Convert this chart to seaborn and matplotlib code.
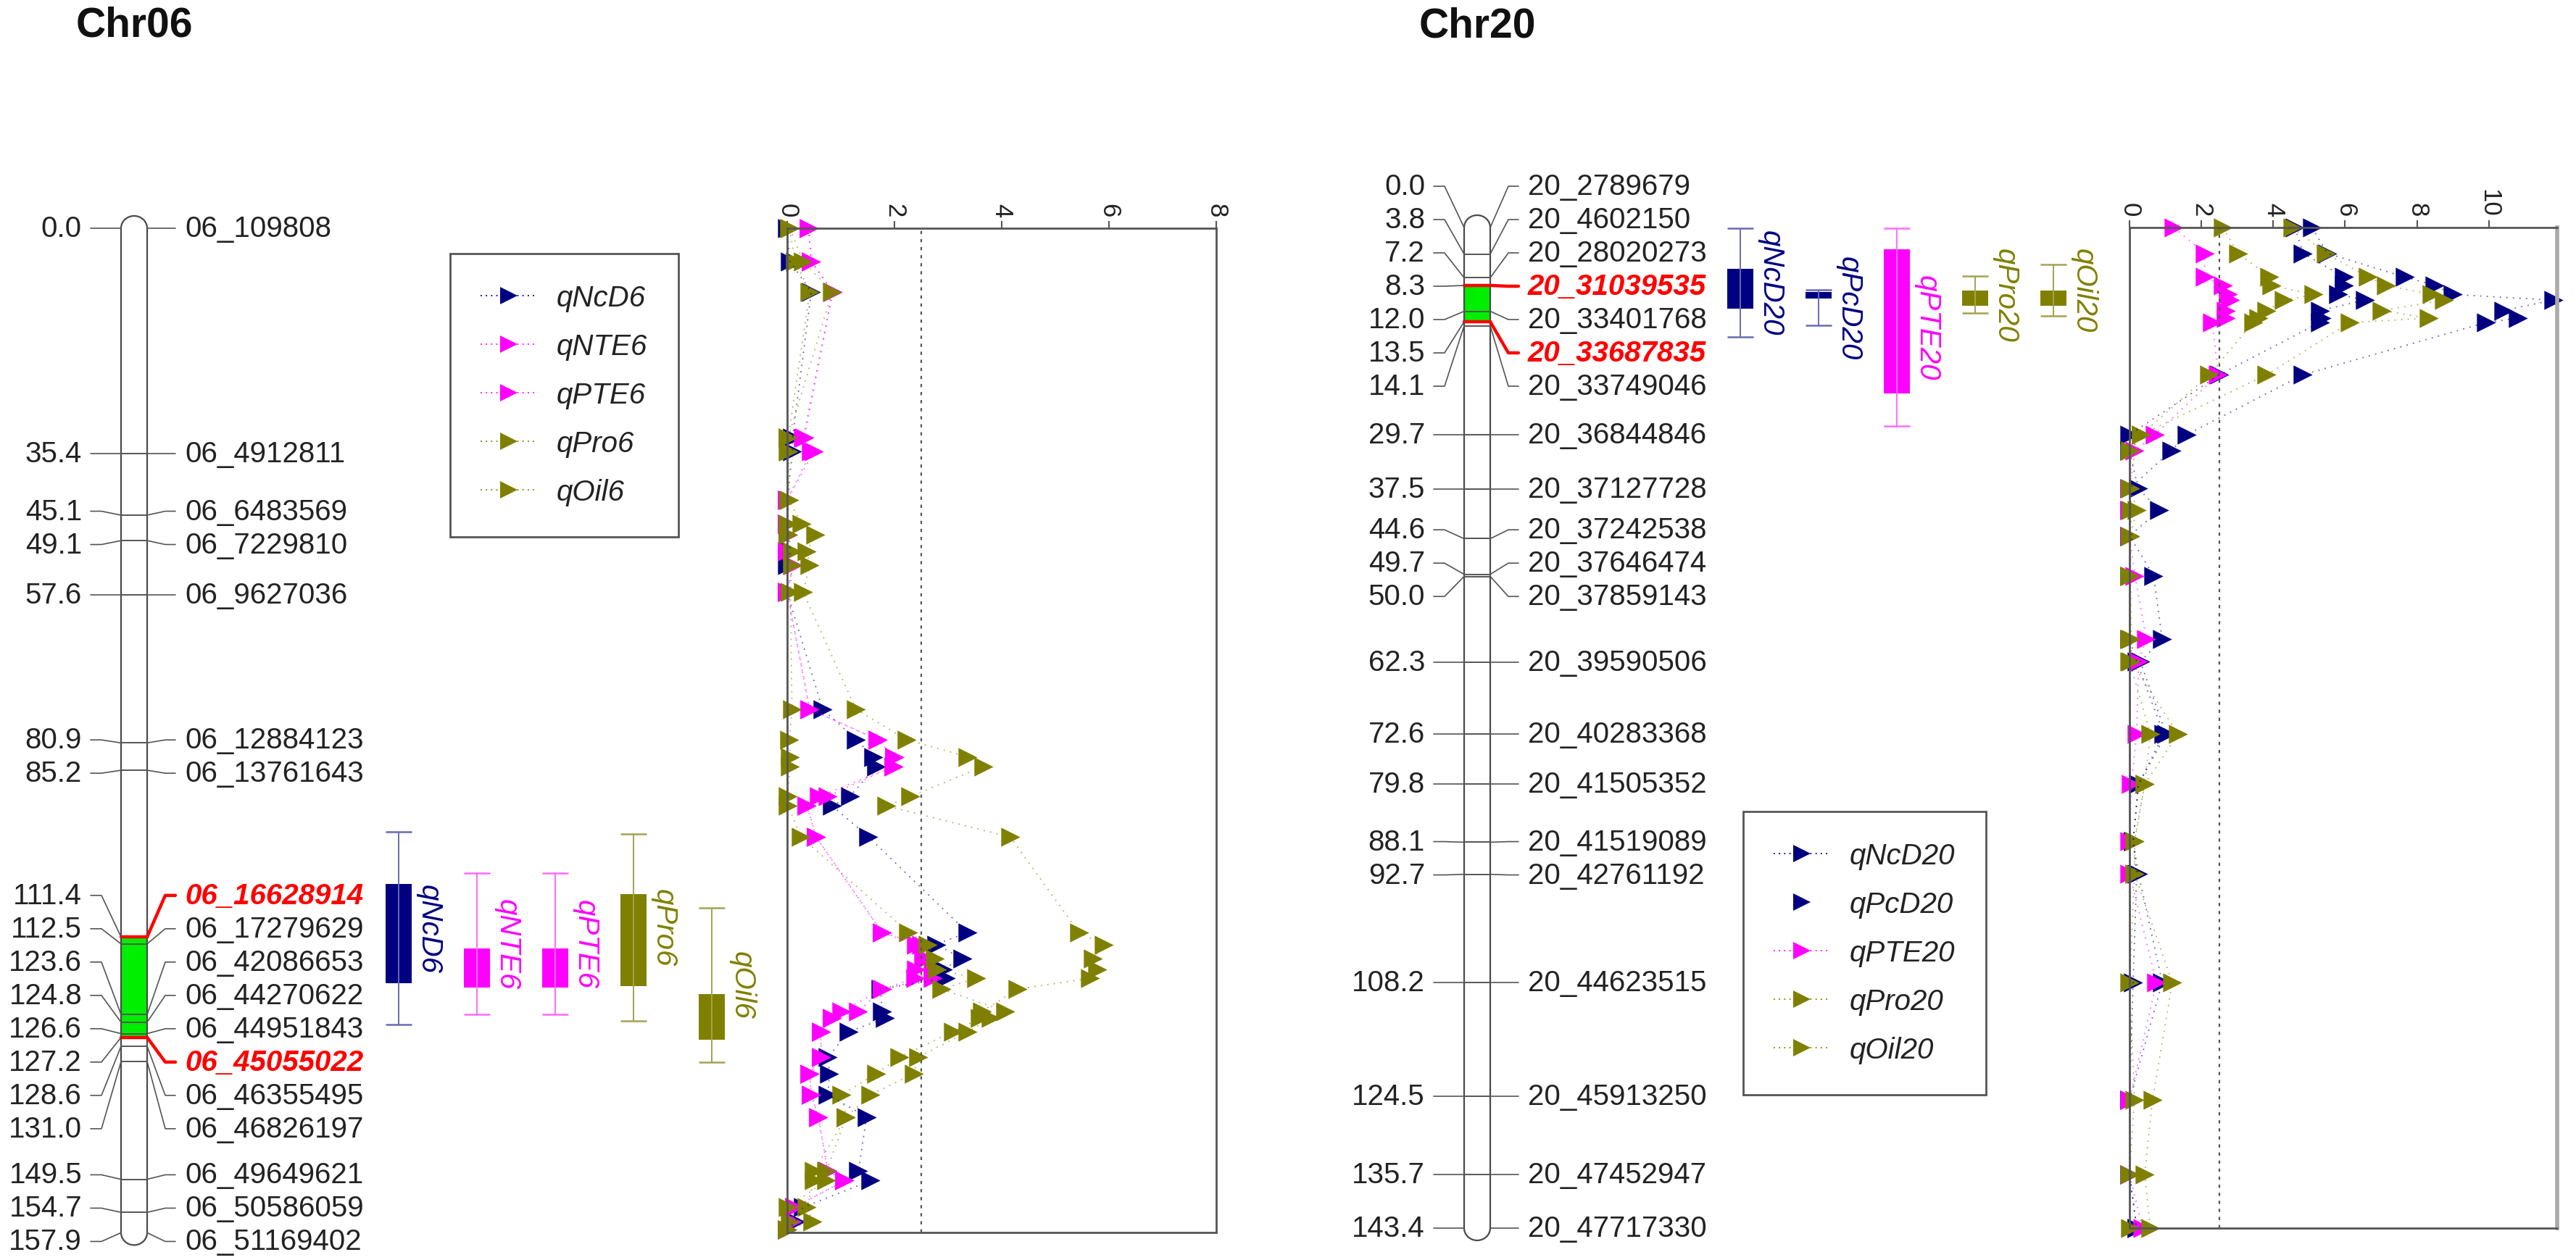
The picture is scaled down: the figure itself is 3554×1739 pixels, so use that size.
import numpy as np
import matplotlib
matplotlib.use('Agg')
import matplotlib.pyplot as plt
from matplotlib.patches import Arc
from matplotlib.lines import Line2D
import seaborn as sns

# ---- genetic maps (cM) ----
chr06_pos = [0.0, 35.4, 45.1, 49.1, 57.6, 80.9, 85.2, 111.4, 112.5, 123.6, 124.8,
             126.6, 127.2, 128.6, 131.0, 149.5, 154.7, 157.9]
chr06_names = ['06_109808', '06_4912811', '06_6483569', '06_7229810', '06_9627036',
               '06_12884123', '06_13761643', '06_16628914', '06_17279629', '06_42086653',
               '06_44270622', '06_44951843', '06_45055022', '06_46355495', '06_46826197',
               '06_49649621', '06_50586059', '06_51169402']
chr06_flank = ['06_16628914', '06_45055022']

chr20_pos = [0.0, 3.8, 7.2, 8.3, 12.0, 13.5, 14.1, 29.7, 37.5, 44.6, 49.7, 50.0, 62.3,
             72.6, 79.8, 88.1, 92.7, 108.2, 124.5, 135.7, 143.4]
chr20_names = ['20_2789679', '20_4602150', '20_28020273', '20_31039535', '20_33401768',
               '20_33687835', '20_33749046', '20_36844846', '20_37127728', '20_37242538',
               '20_37646474', '20_37859143', '20_39590506', '20_40283368', '20_41505352',
               '20_41519089', '20_42761192', '20_44623515', '20_45913250', '20_47452947',
               '20_47717330']
chr20_flank = ['20_31039535', '20_33687835']

# ---- QTL intervals: (whisker low, box low, box high, whisker high) in cM ----
chr06_qtl_names = ['qNcD6', 'qNTE6', 'qPTE6', 'qPro6', 'qOil6']
chr06_qtl_iv = [(94.9, 103.1, 118.7, 125.2), (101.4, 113.2, 119.4, 123.6),
                (101.4, 113.2, 119.4, 123.6), (95.2, 104.7, 119.1, 124.6),
                (106.8, 120.4, 127.6, 131.1)]
chr20_qtl_names = ['qNcD20', 'qPcD20', 'qPTE20', 'qPro20', 'qOil20']
chr20_qtl_iv = [(0.1, 5.9, 11.6, 15.7), (8.9, 9.2, 10.2, 14.0), (0.1, 3.1, 23.8, 28.5),
                (7.0, 9.0, 11.2, 12.3), (5.3, 9.0, 11.2, 12.7)]

# ---- LOD profiles ----
chr06_scan = [0.0, 5.2, 10.0, 32.9, 35.1, 42.7, 46.5, 48.2, 50.8, 53.0, 57.2, 75.6, 80.4,
              83.1, 84.6, 89.3, 90.8, 95.7, 110.7, 112.6, 114.8, 116.5, 117.9, 119.6,
              123.1, 124.2, 126.3, 130.3, 132.9, 136.2, 139.7, 148.2, 149.7, 153.9,
              156.1, 157.4]
lod_ncd6 = [0.0, 0.05, 0.45, 0.1, 0.1, 0.0, 0.0, 0.02, 0.06, 0.0, 0.0, 0.66, 1.29, 1.61,
            1.66, 1.17, 0.84, 1.52, 3.36, 2.78, 3.27, 2.9, 2.96, 1.74, 1.77, 1.82, 1.15,
            0.76, 0.79, 0.76, 1.48, 1.33, 1.56, 0.3, 0.16, 0.0]
lod_nte6 = [0.4, 0.45, 0.85, 0.32, 0.5, 0.0, 0.0, 0.02, 0.0, 0.11, 0.0, 0.42, 1.69, 2.0,
            1.98, 0.6, 0.37, 0.54, 1.77, 2.4, 2.54, 2.72, 2.39, 1.77, 1.33, 0.84, 0.63,
            0.63, 0.42, 0.45, 0.58, 0.76, 1.07, 0.14, 0.1, 0.0]
lod_pte6 = [0.4, 0.45, 0.85, 0.3, 0.45, 0.0, 0.0, 0.02, 0.0, 0.11, 0.0, 0.42, 1.69, 2.0,
            1.98, 0.75, 0.37, 0.54, 1.77, 2.5, 2.6, 2.4, 2.72, 1.77, 1.02, 0.84, 0.63,
            0.63, 0.42, 0.45, 0.58, 0.76, 1.07, 0.14, 0.1, 0.0]
lod_pro6 = [0.04, 0.15, 0.42, 0.02, 0.02, 0.03, 0.27, 0.53, 0.37, 0.42, 0.3, 1.28, 2.23,
            3.37, 3.66, 2.3, 1.85, 4.16, 5.44, 5.9, 5.7, 5.78, 5.65, 4.3, 3.63, 3.6, 3.09,
            2.1, 1.66, 1.02, 1.1, 0.5, 0.73, 0.01, 0.05, 0.0]
lod_oil6 = [0.05, 0.3, 0.84, 0.02, 0.03, 0.04, 0.01, 0.02, 0.09, 0.09, 0.06, 0.09, 0.04,
            0.06, 0.06, 0.01, 0.02, 0.26, 2.26, 2.62, 2.75, 2.8, 3.53, 2.88, 4.07, 3.8,
            3.37, 2.44, 2.36, 1.56, 1.1, 0.73, 0.5, 0.37, 0.47, 0.0]

chr20_scan = [0.0, 3.7, 7.1, 8.3, 9.6, 10.4, 11.9, 13.0, 13.6, 21.1, 29.7, 32.0, 37.4,
              40.5, 44.2, 49.9, 59.0, 62.2, 72.6, 79.8, 88.0, 92.6, 108.2, 125.0, 135.7,
              143.4]
lod_ncd20 = [4.6, 4.83, 5.97, 5.97, 5.8, 6.56, 5.3, 5.35, 5.3, 2.5, 0.0, 0.0, 0.24, 0.83,
             0.0, 0.67, 0.91, 0.3, 1.02, 0.25, 0.1, 0.25, 0.91, 0.0, 0.0, 0.2]
lod_pcd20 = [5.08, 5.5, 7.66, 8.5, 9.0, 11.79, 10.4, 10.82, 9.93, 4.83, 1.59, 1.16, 0.0,
             0.0, 0.0, 0.0, 0.0, 0.2, 0.95, 0.25, 0.1, 0.2, 0.1, 0.0, 0.0, 0.2]
lod_pte20 = [1.23, 2.09, 2.09, 2.6, 2.75, 2.8, 2.68, 2.68, 2.3, 2.47, 0.7, 0.15, 0.0, 0.0,
             0.0, 0.15, 0.47, 0.25, 0.2, 0.05, 0.0, 0.0, 0.75, 0.0, 0.0, 0.36]
lod_pro20 = [2.6, 3.02, 3.9, 3.95, 5.13, 4.3, 3.82, 3.6, 3.44, 2.22, 0.32, 0.03, 0.03,
             0.05, 0.03, 0.0, 0.0, 0.0, 0.58, 0.42, 0.14, 0.14, 0.0, 0.14, 0.0, 0.03]
lod_oil20 = [4.54, 5.46, 6.64, 7.15, 8.41, 8.75, 7.02, 8.33, 6.14, 3.82, 0.32, 0.03, 0.03,
             0.2, 0.03, 0.03, 0.05, 0.05, 1.35, 0.42, 0.14, 0.14, 1.19, 0.64, 0.42, 0.58]

lod_threshold = 2.5

NAVY, MAG, OLIVE = '#000080', '#ff00ff', '#808000'
LIGHT = {NAVY: '#6a6ab4', MAG: '#ff6bff', OLIVE: '#a3a352'}
chr06_colors = [NAVY, MAG, MAG, OLIVE, OLIVE]
chr20_colors = [NAVY, NAVY, MAG, OLIVE, OLIVE]

W, H = 3554, 1740
sns.set_theme(style='white')
plt.rcParams['font.family'] = ['Liberation Sans', 'DejaVu Sans']
fig = plt.figure(figsize=(W / 100, H / 100), dpi=100)


def spread(pos, gap):
    # push overlapping labels apart, keeping each cluster centred on its markers
    groups = [[i] for i in range(len(pos))]

    def place(g):
        c = np.mean([pos[i] for i in g])
        return [c + (k - (len(g) - 1) / 2) * gap for k in range(len(g))]

    changed = True
    while changed:
        changed = False
        for j in range(len(groups) - 1):
            if place(groups[j + 1])[0] - place(groups[j])[-1] < gap - 1e-9:
                groups[j] = groups[j] + groups.pop(j + 1)
                changed = True
                break
    out = []
    for g in groups:
        out += place(g)
    return out


def draw_map(y0, scale, pos, names, flank, xl, title, qtl_names, qtl_iv, qtl_colors, qx0):
    # full-figure axes: x in pixels, y in cM
    ax = fig.add_axes([0, 0, 1, 1], zorder=0)
    ax.set_xlim(0, W)
    ax.set_ylim((H - y0) / scale, -y0 / scale)
    ax.axis('off')
    xr = xl + 36
    L = pos[-1]
    edge = '#4a4a4a'
    cap = 17 / scale

    lo, hi = [pos[names.index(f)] for f in flank]
    ax.fill_between([xl, xr], [lo, lo], [hi, hi], color='#00ee00', lw=0)
    ax.vlines([xl, xr], 0, L, color=edge, lw=1.6)
    ax.add_patch(Arc(((xl + xr) / 2, 0), xr - xl, 2 * cap, theta1=180, theta2=360,
                     color=edge, lw=1.6))
    ax.add_patch(Arc(((xl + xr) / 2, L), xr - xl, 2 * cap, theta1=0, theta2=180,
                     color=edge, lw=1.6))

    labs = spread(pos, 46 / scale)
    for p, lab, name in zip(pos, labs, names):
        hot = name in flank
        if p not in (0.0, L) or hot:
            ax.plot([xl, xr], [p, p], color='red' if hot else '#555555',
                    lw=3.2 if hot else 1.4)
        ax.plot([xl - 42, xl - 27, xl], [lab, lab, p], color='#555555', lw=1.2)
        ax.plot([xr, xr + 25, xr + 39], [p, lab, lab], color='red' if hot else '#555555',
                lw=3.2 if hot else 1.2)
        ax.text(xl - 54, lab, f'{p:.1f}', ha='right', va='center', fontsize=29,
                color='#222222')
        ax.text(xr + 52, lab, name, ha='left', va='center', fontsize=29,
                color='red' if hot else '#222222',
                fontweight='bold' if hot else 'normal',
                style='italic' if hot else 'normal')
    ax.text((xl + xr) / 2, (36 - y0) / scale, title, ha='center', va='center',
            fontsize=41, fontweight='bold', color='#111111')

    w = 36
    for i, (nm, (wl, bl, bh, wh), c) in enumerate(zip(qtl_names, qtl_iv, qtl_colors)):
        x = qx0 + i * 108
        ax.vlines(x, wl, wh, color=LIGHT[c], lw=1.4)
        ax.hlines([wl, wh], x - w / 2, x + w / 2, color=LIGHT[c], lw=1.8)
        ax.bar(x, bh - bl, bottom=bl, width=w, color=c, lw=0)
        ax.text(x + 42, (wl + wh) / 2, nm, rotation=-90, ha='center', va='center',
                color=c, style='italic', fontsize=29)
    return ax


def draw_lod(x0, x1, y0, scale, L, xmax, ticks, scan, series, colors, right_grey):
    ax = fig.add_axes([x0 / W, (H - y0 - L * scale) / H, (x1 - x0) / W, L * scale / H],
                      zorder=2)
    ax.patch.set_alpha(0)
    for lod, c in zip(series, colors):
        # faint dotted profile, then the triangles on top
        sns.lineplot(x=lod, y=scan, ax=ax, orient='y', estimator=None, sort=False,
                     color=c, linestyle=(0, (1, 4)), linewidth=1.3, alpha=0.6,
                     legend=False)
        sns.scatterplot(x=lod, y=scan, ax=ax, color=c, marker='>', s=360, linewidth=0,
                        legend=False)
    ax.axvline(lod_threshold, color='#555555', ls=(0, (2, 3)), lw=1.6)
    ax.set_xlim(0, xmax)
    ax.set_ylim(L, 0)
    ax.set_xticks(ticks)
    ax.set_xticklabels([str(t) for t in ticks])
    ax.set_yticks([])
    ax.set_xlabel('')
    ax.set_ylabel('')
    ax.xaxis.tick_top()
    ax.tick_params(axis='x', direction='out', length=7, width=1.5, colors='#555555',
                   labelcolor='#222222', labelsize=25, labelrotation=-90, pad=4)
    for s in ax.spines.values():
        s.set_visible(True)
        s.set_color('#555555')
        s.set_linewidth(2)
    if right_grey:
        ax.spines['right'].set_color('#aaaaaa')
        ax.spines['right'].set_linewidth(4)
    for art in ax.lines + ax.collections:
        art.set_clip_on(False)
    return ax


draw_map(316, 8.78, chr06_pos, chr06_names, chr06_flank, 167, 'Chr06',
         chr06_qtl_names, chr06_qtl_iv, chr06_colors, 550)
draw_map(315, 9.63, chr20_pos, chr20_names, chr20_flank, 2020, 'Chr20',
         chr20_qtl_names, chr20_qtl_iv, chr20_colors, 2401)

draw_lod(1086, 1678, 316, 8.78, chr06_pos[-1], 8, [0, 2, 4, 6, 8], chr06_scan,
         [lod_ncd6, lod_nte6, lod_pte6, lod_pro6, lod_oil6], chr06_colors, False)
draw_lod(2938, 3528, 315, 9.63, chr20_pos[-1], 11.9, [0, 2, 4, 6, 8, 10], chr20_scan,
         [lod_ncd20, lod_pcd20, lod_pte20, lod_pro20, lod_oil20], chr20_colors, True)


def add_legend(names, colors, x, y, solid_none=None):
    handles = []
    for nm, c in zip(names, colors):
        ls = 'none' if nm == solid_none else (0, (1, 3))
        handles.append(Line2D([], [], color=c, marker='>', markersize=17,
                              markeredgewidth=0, linestyle=ls, lw=1.3))
    leg = fig.legend(handles, names, loc='upper left', bbox_to_anchor=(x / W, 1 - y / H),
                     bbox_transform=fig.transFigure, frameon=True, fancybox=False,
                     framealpha=1, edgecolor='#555555', borderpad=1.05, labelspacing=0.72,
                     handlelength=1.9, handletextpad=0.7, borderaxespad=0,
                     prop={'style': 'italic', 'size': 29})
    leg.get_frame().set_linewidth(2)
    for t in leg.get_texts():
        t.set_color('#222222')


add_legend(chr06_qtl_names, chr06_colors, 621, 351)
add_legend(chr20_qtl_names, chr20_colors, 2405, 1121, solid_none='qPcD20')

fig.savefig('out.png', dpi=100, facecolor='white')
